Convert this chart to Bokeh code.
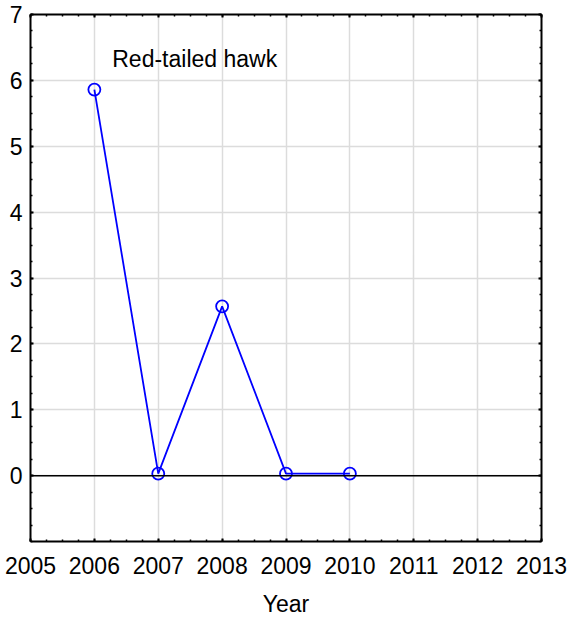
from bokeh.plotting import figure
from bokeh.models import (LinearAxis, FixedTicker, Span, Label, Range1d)
from bokeh.embed import file_html
from bokeh.resources import INLINE

# ---- data ----
years = [2006, 2007, 2008, 2009, 2010]
values = [5.86, 0.03, 2.57, 0.03, 0.03]
x_ticks = [2005, 2006, 2007, 2008, 2009, 2010, 2011, 2012, 2013]
y_ticks = [0, 1, 2, 3, 4, 5, 6, 7]
series_name = "Red-tailed hawk"
x_title = "Year"

FONT = "Liberation Sans"
FS = "23px"

x_minor = [x_ticks[0] + i * 0.25 for i in range(int((x_ticks[-1] - x_ticks[0]) * 4) + 1)]
y_minor = [-1 + i * 0.25 for i in range(int((y_ticks[-1] + 1) * 4) + 1)]

p = figure(width=570, height=619, output_backend="svg", toolbar_location=None,
           x_range=Range1d(2005, 2013), y_range=Range1d(-1, 7),
           x_axis_location=None, y_axis_location=None,
           min_border_left=30, min_border_right=29, min_border_top=14, min_border_bottom=78)
p.outline_line_color = None
p.background_fill_color = "white"
p.border_fill_color = "white"

xt = FixedTicker(ticks=x_ticks, minor_ticks=x_minor)
yt = FixedTicker(ticks=y_ticks, minor_ticks=y_minor)


def style(ax):
    ax.axis_line_color = "black"
    ax.axis_line_width = 2
    ax.major_tick_in = 3
    ax.major_tick_out = 0
    ax.minor_tick_in = 2
    ax.minor_tick_out = 0
    ax.major_tick_line_width = 2
    ax.minor_tick_line_width = 1.5
    ax.major_tick_line_color = "black"
    ax.minor_tick_line_color = "black"
    ax.major_label_text_font = FONT
    ax.major_label_text_font_size = FS
    ax.major_label_text_color = "black"
    ax.axis_label_text_font = FONT
    ax.axis_label_text_font_size = FS
    ax.axis_label_text_font_style = "normal"
    ax.axis_label_text_color = "black"


bottom = LinearAxis(ticker=xt, axis_label=x_title)
style(bottom)
bottom.major_label_standoff = 15
bottom.axis_label_standoff = 14
p.add_layout(bottom, "below")

left = LinearAxis(ticker=yt)
style(left)
left.major_label_standoff = 8
p.add_layout(left, "left")

top = LinearAxis(ticker=xt)
style(top)
top.major_label_standoff = 0
top.major_label_overrides = {t: "" for t in x_ticks}
p.add_layout(top, "above")

right = LinearAxis(ticker=yt)
style(right)
right.major_label_standoff = 0
right.major_label_overrides = {t: "" for t in y_ticks}
p.add_layout(right, "right")

p.xgrid.ticker = xt
p.ygrid.ticker = yt
for g in (p.xgrid, p.ygrid):
    g.grid_line_color = "#dcdcdc"
    g.grid_line_width = 1.5

p.add_layout(Span(location=0, dimension="width", line_color="black", line_width=1.5))

p.line(years, values, line_color="#0000ff", line_width=1.8)
p.scatter(years, values, marker="circle", size=12, fill_color=None,
          line_color="#0000ff", line_width=1.8)

p.add_layout(Label(x=2006.28, y=6.33, text=series_name, text_font=FONT,
                   text_font_size=FS, text_color="black",
                   text_baseline="alphabetic", text_align="left"))

open("out.html", "w").write(file_html(p, INLINE))
